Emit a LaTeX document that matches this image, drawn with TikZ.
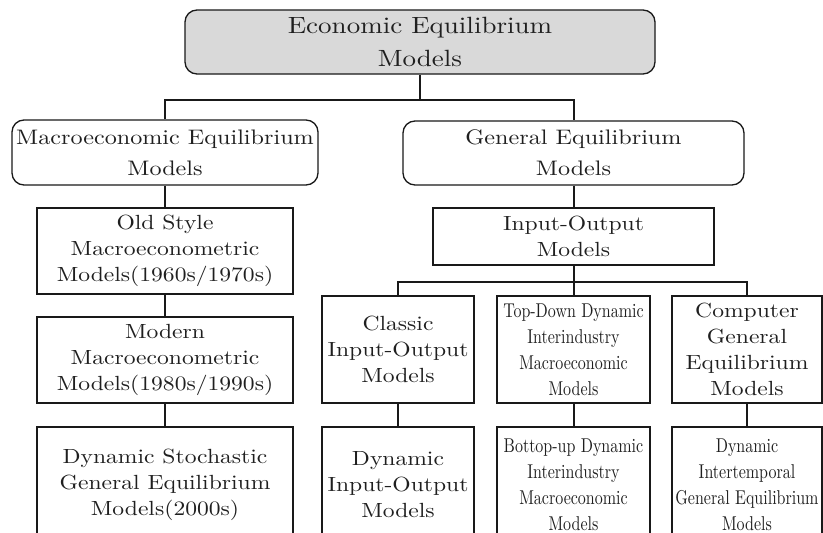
\documentclass[tikz,border=0pt]{standalone}
\usepackage{fontspec}
% wide-set serif for the regular labels, condensed cut for the long ones
\setmainfont{lmroman10-regular}[Extension=.otf, FakeStretch=1.15]
\newfontfamily\narrowfont{lmroman10-regular}[Extension=.otf, FakeStretch=0.8]

\begin{document}
\begin{tikzpicture}[
  x=1pt, y=-1pt,
  base/.style={draw=black!90, text=black!88, align=center, inner sep=0pt},
  headbox/.style={base, rounded corners=12pt, line width=1.3pt, fill=black!15,
    font=\fontsize{23.5}{33}\selectfont},
  groupbox/.style={base, rounded corners=12pt, line width=1.3pt,
    font=\fontsize{21}{31}\selectfont},
  modelbox/.style={base, line width=1.2pt, font=\fontsize{20.5}{26}\selectfont},
  narrowbox/.style={base, line width=1.2pt, font=\narrowfont\fontsize{20}{26}\selectfont},
  link/.style={draw=black!90, line width=2pt}
]
\useasboundingbox (0,0) rectangle (823,533);
\clip (0,0) rectangle (823,533);

% root
\node[headbox, minimum width=470, minimum height=64] (root) at (420,42)
  {Economic Equilibrium\\Models};

% two families
\node[groupbox, minimum width=306, minimum height=65] (macro) at (165,152.5)
  {Macroeconomic Equilibrium\\Models};
\node[groupbox, minimum width=341, minimum height=64] (general) at (573.5,153)
  {General Equilibrium\\Models};

% macroeconometric lineage
\node[modelbox, minimum width=256, minimum height=86] (old) at (165,251)
  {Old Style\\Macroeconometric\\Models(1960s/1970s)};
\node[modelbox, minimum width=256, minimum height=86] (modern) at (165,360)
  {Modern\\Macroeconometric\\Models(1980s/1990s)};
\node[modelbox, minimum width=256, minimum height=116] (dsge) at (165,485)
  {Dynamic Stochastic\\General Equilibrium\\Models(2000s)};

% input-output branch
\node[modelbox, minimum width=281, minimum height=57] (io) at (573.5,236.5)
  {Input-Output\\Models};

\node[modelbox, minimum width=152, minimum height=107] (classic) at (398,349.5)
  {Classic\\Input-Output\\Models};
\node[narrowbox, minimum width=153, minimum height=107] (topdown) at (573.5,349.5)
  {Top-Down Dynamic\\Interindustry\\Macroeconomic\\Models};
\node[modelbox, minimum width=150, minimum height=107] (cge) at (747,349.5)
  {Computer\\General\\Equilibrium\\Models};

\node[modelbox, minimum width=152, minimum height=116] (dynio) at (398,485)
  {Dynamic\\Input-Output\\Models};
\node[narrowbox, minimum width=153, minimum height=116] (bottomup) at (573.5,485)
  {Bottop-up Dynamic\\Interindustry\\Macroeconomic\\Models};
\node[narrowbox, minimum width=150, minimum height=116] (dige) at (747,485)
  {Dynamic\\Intertemporal\\General Equilibrium\\Models};

% junction points of the tree
\coordinate (j1) at (420,100);
\coordinate (j2) at (573.5,282);

% connectors
\draw[link] (root.south) -- (j1);
\draw[link] (macro.north) |- (j1) -| (general.north);
\draw[link] (macro) -- (old);
\draw[link] (old) -- (modern);
\draw[link] (modern) -- (dsge);
\draw[link] (general) -- (io);
\draw[link] (io.south) -- (j2);
\draw[link] (classic.north) |- (j2) -| (cge.north);
\draw[link] (j2) -- (topdown.north);
\draw[link] (classic) -- (dynio);
\draw[link] (topdown) -- (bottomup);
\draw[link] (cge) -- (dige);
\end{tikzpicture}
\end{document}
